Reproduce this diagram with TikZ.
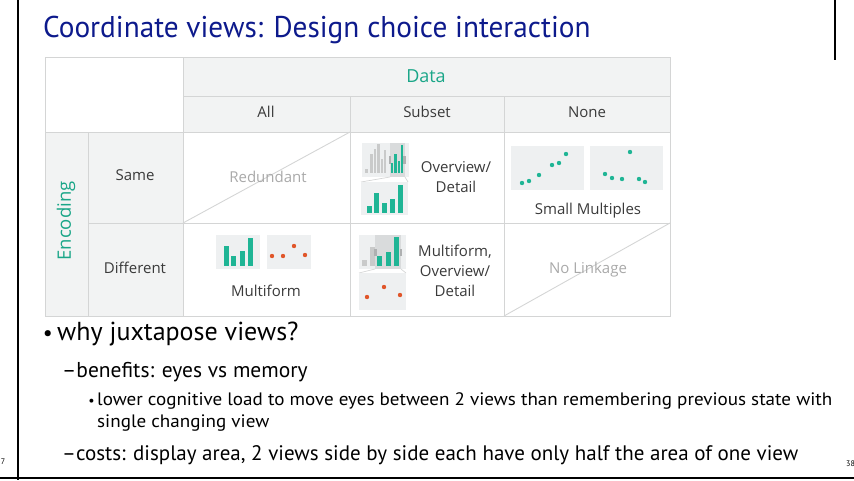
\documentclass[tikz,border=0pt]{standalone}
\usepackage{fontspec}
\setmainfont{PT Sans}
\newfontfamily\slide{PT Sans}
\newfontfamily\titlefont[FakeStretch=0.975]{PT Sans}
\newfontfamily\subfont[FakeStretch=1.06]{PT Sans}
\newfontfamily\tbl{Open Sans}
\definecolor{navy}{HTML}{0D1A8C}
\definecolor{teal}{HTML}{1AA688}
\definecolor{barteal}{HTML}{1FB595}
\definecolor{dotorange}{HTML}{E0562A}
\definecolor{cellgrey}{HTML}{F2F3F3}
\definecolor{gridgrey}{HTML}{D4D5D5}
\definecolor{paneltint}{HTML}{EEF0F1}
\definecolor{hltint}{HTML}{D9DBDC}
\definecolor{greybar}{HTML}{C9CACA}
\definecolor{handlegrey}{HTML}{AEB0B1}
\definecolor{labeltxt}{HTML}{3A3A3A}
\definecolor{fadetxt}{HTML}{A9A9A9}
\begin{document}
\begin{tikzpicture}[x=1pt,y=-1pt,
  grid/.style={draw=gridgrey, line width=0.9pt},
  lbl/.style={font=\tbl\fontsize{15}{20}\selectfont, text=labeltxt, inner sep=0pt, align=center},
  fade/.style={font=\tbl\fontsize{15}{20}\selectfont, text=fadetxt, inner sep=0pt},
  panel/.style={fill=paneltint},
  hl/.style={fill=hltint},
  gbar/.style={fill=greybar},
  tbar/.style={fill=barteal},
  handle/.style={fill=handlegrey},
  tdot/.style={fill=barteal},
  odot/.style={fill=dotorange},
  zoomline/.style={draw=gridgrey, line width=0.7pt},
  bul/.style={inner sep=0pt, anchor=west, text=black},
  bdot/.style={inner sep=0pt, anchor=base east, text=black},
  frame/.style={draw=black, line width=2pt}]
\useasboundingbox (0,0) rectangle (854,480);
% frame
\draw[frame] (18,0) -- (18,480);
\draw[frame] (0,478) -- (854,478);
\draw[frame] (835,0) -- (835,60);
\node[inner sep=0pt, font=\fontsize{8}{9}\selectfont] (pgl) at (3,462) {7};
\node[inner sep=0pt, anchor=west, font=\fontsize{8}{9}\selectfont] (pgr) at (846,464) {38};
% title
\node[inner sep=0pt, anchor=west, text=navy, font=\titlefont\fontsize{30}{34}\selectfont] (title) at (43,30) {Coordinate views: Design choice interaction};
% table fills
\fill[cellgrey] (183,57) rectangle (670,132);
\fill[cellgrey] (45,132) rectangle (183,316);
% grid
\draw[grid] (45,57) rectangle (670,316);
\draw[grid] (183,96) -- (670,96);
\draw[grid] (45,132) -- (670,132);
\draw[grid] (88,223) -- (670,223);
\draw[grid] (183,57) -- (183,316);
\draw[grid] (350,96) -- (350,316);
\draw[grid] (504,96) -- (504,316);
\draw[grid] (88,132) -- (88,316);
\draw[grid] (183,223) -- (350,132);
\draw[grid] (504,316) -- (670,223);
% headers
\node[font=\tbl\fontsize{18}{20}\selectfont, text=teal, inner sep=0pt] (data) at (426,76) {Data};
\node[lbl] (all) at (266,112) {All};
\node[lbl] (subset) at (427,112) {Subset};
\node[lbl] (none) at (587,112) {None};
\node[font=\tbl\fontsize{18.5}{20}\selectfont, text=teal, inner sep=0pt, rotate=90] (enc) at (66,221) {Encoding};
\node[lbl] (same) at (135,175) {Same};
\node[lbl] (diff) at (135,268) {Different};
% cell texts
\node[fade] (red) at (268,177) {Redundant};
\node[fade] (nolink) at (588,270) {No Linkage};
\node[lbl] (ovd) at (456,177) {Overview/\\Detail};
\node[lbl] (smult) at (588,211) {Small Multiples};
\node[lbl] (mf) at (266,291) {Multiform};
\node[lbl] (mfovd) at (455,271) {Multiform,\\Overview/\\Detail};
% Subset/Same overview+detail
\fill[panel] (362,143) rectangle (409,177);
\fill[gbar] (365,169) rectangle (368,173);
\fill[gbar] (370,154) rectangle (372.5,173);
\fill[gbar] (374,149) rectangle (376.3,173);
\fill[gbar] (377.3,144) rectangle (379.5,173);
\fill[gbar] (380.5,159) rectangle (382.7,173);
\fill[gbar] (384,150) rectangle (386.3,173);
\fill[hl] (390,143) rectangle (405,177);
\fill[tbar] (391,163) rectangle (393.2,173);
\fill[tbar] (394.3,154) rectangle (396.5,173);
\fill[tbar] (397.6,161) rectangle (399.8,173);
\fill[tbar] (400.6,145) rectangle (402.8,173);
\fill[handle] (388.5,156) rectangle (390.8,164);
\fill[handle] (403.4,156) rectangle (405.7,164);
\draw[zoomline] (390,177) -- (361,182);
\draw[zoomline] (405,177) -- (408,182);
\fill[panel] (361,182) rectangle (408,215);
\fill[tbar] (367,206) rectangle (372,213);
\fill[tbar] (374,193) rectangle (379,213);
\fill[tbar] (382,203) rectangle (387,213);
\fill[tbar] (390,199) rectangle (395,213);
\fill[tbar] (398,185) rectangle (403,213);
% small multiples
\fill[panel] (511,146) rectangle (584,190);
\fill[panel] (590,146) rectangle (663,190);
\foreach \p in {(522,183),(529,181),(539,175),(552,165),(559,163),(566,154),
                (630,152),(605,174),(612,178),(622,179),(639,179),(645,182)}
  \fill[tdot] \p circle (2.2);
% multiform
\fill[panel] (216,235) rectangle (260,269);
\fill[tbar] (224,246) rectangle (229,266);
\fill[tbar] (231,256) rectangle (236,266);
\fill[tbar] (240,251) rectangle (245,266);
\fill[tbar] (248,238) rectangle (253,266);
\fill[panel] (267,235) rectangle (311,269);
\foreach \p in {(272,256),(283,256),(294,246),(305,255)}
  \fill[odot] \p circle (2.2);
% Subset/Different
\fill[panel] (359,235) rectangle (406,269);
\fill[gbar] (362,260) rectangle (367,266);
\fill[gbar] (370,247) rectangle (375,266);
\fill[hl] (375,235) rectangle (401,269);
\fill[tbar] (377,256) rectangle (382,266);
\fill[tbar] (386,252) rectangle (391,266);
\fill[tbar] (394,237) rectangle (399,266);
\fill[handle] (374.3,249) rectangle (377,256);
\fill[handle] (399.5,249) rectangle (402.2,256);
\draw[zoomline] (375,269) -- (359,273);
\draw[zoomline] (401,269) -- (406,273);
\fill[panel] (359,273) rectangle (406,310);
\foreach \p in {(367,297),(384,287),(400,295)}
  \fill[odot] \p circle (2.2);
% bullets
\node[bul, font=\slide\fontsize{26}{30}\selectfont] (b1) at (57,334) {why juxtapose views?};
\node[bdot, font=\slide\fontsize{22}{30}\selectfont] (b1dot) at ([xshift=-4pt]b1.base west) {•};
\node[bul, font=\slide\fontsize{21.5}{24}\selectfont] (b2) at (62,372) {–benefits: eyes vs memory};
\node[bul, font=\subfont\fontsize{18}{22}\selectfont] (b3) at (97,401) {lower cognitive load to move eyes between 2 views than remembering previous state with};
\node[bdot, font=\slide\fontsize{14}{22}\selectfont] (b3dot) at ([xshift=-2pt]b3.base west) {•};
\node[bul, font=\subfont\fontsize{18}{22}\selectfont] (b3b) at (97,423) {single changing view};
\node[bul, font=\slide\fontsize{21}{24}\selectfont] (b4) at (62,455) {–costs: display area, 2 views side by side each have only half the area of one view};
\end{tikzpicture}
\end{document}
